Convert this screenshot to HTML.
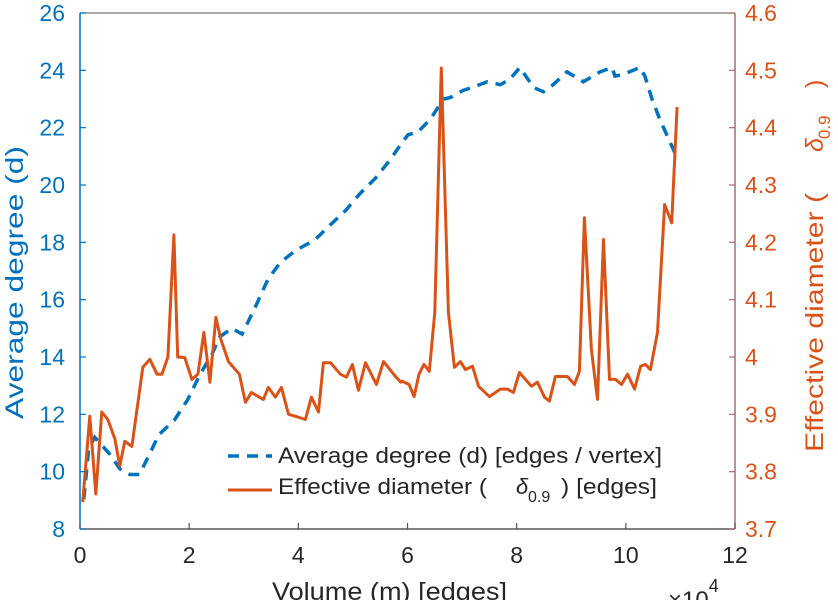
<!DOCTYPE html>
<html><head><meta charset="utf-8"><style>
body{margin:0;background:#fff;}
svg text{font-family:"Liberation Sans",sans-serif;}
</style></head><body>
<svg id="chart" width="838" height="600" xmlns="http://www.w3.org/2000/svg" style="position:absolute;left:0;top:0"></svg>
<script>
const xTicks=[0,2,4,6,8,10,12];
const leftTicks=[8,10,12,14,16,18,20,22,24,26];
const rightTicks=[3.7,3.8,3.9,4.0,4.1,4.2,4.3,4.4,4.5,4.6];
const rightTickLabels=["3.7","3.8","3.9","4","4.1","4.2","4.3","4.4","4.5","4.6"];
const degX=[0.07,0.16,0.27,0.55,0.73,0.91,1.09,1.27,1.45,1.73,1.97,2.2,2.42,2.56,2.78,2.97,3.2,3.44,3.67,3.94,4.31,4.58,4.86,5.13,5.42,5.69,5.87,6.01,6.19,6.42,6.66,6.78,7.02,7.18,7.46,7.7,7.88,8.06,8.31,8.49,8.67,8.92,9.22,9.53,9.75,9.8,9.94,10.26,10.35,10.48,10.62,10.94];
const degY=[9.04,10.8,11.2,10.6,10.1,9.9,9.9,10.6,11.3,11.8,12.5,13.4,14.1,14.7,15.0,14.8,15.7,16.7,17.3,17.7,18.1,18.6,19.1,19.7,20.25,20.9,21.4,21.75,21.85,22.3,23.0,23.05,23.3,23.4,23.6,23.5,23.7,24.1,23.4,23.25,23.5,23.95,23.6,23.95,24.1,23.8,23.85,24.1,23.8,23.0,22.3,20.95];
const diaX=[0.05,0.18,0.29,0.4,0.51,0.64,0.73,0.82,0.95,1.15,1.28,1.41,1.5,1.61,1.72,1.79,1.92,2.05,2.16,2.27,2.38,2.49,2.58,2.72,2.81,2.92,3.03,3.14,3.36,3.45,3.58,3.69,3.82,4.0,4.13,4.24,4.37,4.46,4.59,4.77,4.88,4.99,5.1,5.23,5.43,5.56,5.79,5.88,5.9,6.03,6.12,6.21,6.3,6.4,6.5,6.62,6.75,6.86,6.97,7.06,7.19,7.3,7.5,7.7,7.83,7.94,8.05,8.16,8.27,8.38,8.51,8.6,8.71,8.93,9.06,9.15,9.24,9.37,9.48,9.59,9.7,9.81,9.92,10.03,10.16,10.27,10.36,10.45,10.58,10.71,10.84,10.94];
const diaY=[3.747,3.897,3.761,3.904,3.891,3.857,3.81,3.853,3.844,3.982,3.996,3.97,3.97,4.0,4.213,4.0,3.999,3.961,3.97,4.043,3.956,4.069,4.031,3.992,3.982,3.97,3.921,3.938,3.926,3.947,3.93,3.947,3.9,3.895,3.891,3.93,3.904,3.99,3.99,3.97,3.965,3.987,3.942,3.99,3.952,3.992,3.965,3.956,3.958,3.952,3.931,3.97,3.987,3.975,4.078,4.504,4.078,3.982,3.992,3.978,3.984,3.949,3.931,3.944,3.944,3.938,3.973,3.961,3.949,3.956,3.93,3.923,3.966,3.966,3.952,3.975,4.243,4.013,3.926,4.205,3.961,3.961,3.952,3.97,3.944,3.984,3.987,3.978,4.043,4.266,4.234,4.436];

const X0=80,X1=735,Y0=13,Y1=529;
const sx=v=>X0+(v-0)/12*(X1-X0);
const syL=v=>Y1-(v-8)/18*(Y1-Y0);
const syR=v=>Y1-(v-3.7)/0.9*(Y1-Y0);
const svg=document.getElementById('chart');
const NS='http://www.w3.org/2000/svg';
function mk(tag,attrs,parent){const e=document.createElementNS(NS,tag);for(const k in attrs)e.setAttribute(k,attrs[k]);(parent||svg).appendChild(e);return e;}
const BLUE='#0072BD',ORANGE='#D95319',RAX='#a0706a',GRAY='#262626';

let d='';degX.forEach((x,i)=>{d+=(i?'L':'M')+sx(x).toFixed(1)+','+syL(degY[i]).toFixed(1);});
const p1=mk('path',{d:d,fill:'none',stroke:BLUE,'stroke-width':3.5,'stroke-dasharray':'11,8'});


let d2='';diaY.forEach((y,i)=>{d2+=(i?'L':'M')+sx(diaX[i]).toFixed(1)+','+syR(y).toFixed(1);});
const p2=mk('path',{d:d2,fill:'none',stroke:ORANGE,'stroke-width':3,'stroke-linejoin':'round'});



const ta=mk('line',{x1:X0,y1:Y0,x2:X1,y2:Y0,stroke:'#777','stroke-width':1.2});


const xa=mk('line',{x1:X0,y1:Y1,x2:X1,y2:Y1,stroke:'#555','stroke-width':1.5});


const la=mk('line',{x1:X0,y1:Y0,x2:X0,y2:Y1,stroke:BLUE,'stroke-width':1.5});


const ra=mk('line',{x1:X1,y1:Y0,x2:X1,y2:Y1,stroke:RAX,'stroke-width':1.5});



xTicks.forEach(v=>{
  mk('line',{x1:sx(v),y1:Y1,x2:sx(v),y2:Y1-6,stroke:'#555','stroke-width':1.2});
  const t=mk('text',{x:sx(v),y:Y1+34,'text-anchor':'middle','font-size':23,fill:GRAY});t.textContent=v;
  
  
});
leftTicks.forEach(v=>{
  mk('line',{x1:X0,y1:syL(v),x2:X0+6,y2:syL(v),stroke:BLUE,'stroke-width':1.2});
  const t=mk('text',{x:X0-15,y:syL(v)+8,'text-anchor':'end','font-size':23,fill:BLUE});t.textContent=v;
  
  
});
rightTicks.forEach((v,i)=>{
  mk('line',{x1:X1,y1:syR(v),x2:X1-6,y2:syR(v),stroke:RAX,'stroke-width':1.2});
  const t=mk('text',{x:X1+10,y:syR(v)+8,'text-anchor':'start','font-size':23,fill:ORANGE});t.textContent=rightTickLabels[i];
  
  
});
</script>
<svg style="position:absolute;left:0;top:0" width="838" height="600">
<g font-family="Liberation Sans,sans-serif">
<text transform="translate(23,419) rotate(-90)" x="0" y="0" font-size="25" fill="#0072BD" textLength="273" lengthAdjust="spacingAndGlyphs">Average degree (d)</text>
<g transform="translate(823,452) rotate(-90)" fill="#D95319" font-size="25">
<text x="0" y="0" textLength="259" lengthAdjust="spacingAndGlyphs">Effective diameter (</text>
<text x="300" y="0" font-style="italic">δ</text>
<text x="313" y="7" font-size="17">0.9</text>
<text x="364" y="0">)</text>
</g>
<text x="272" y="600" font-size="25" fill="#262626" textLength="235" lengthAdjust="spacingAndGlyphs">Volume (m) [edges]</text>
<text x="668" y="608" font-size="24" fill="#262626">×10<tspan font-size="18" dy="-16">4</tspan></text>
<g font-size="22" fill="#262626">
<line x1="228" y1="456" x2="272" y2="456" stroke="#0072BD" stroke-width="3.5" stroke-dasharray="11,8"/>
<text x="278" y="463" textLength="384" lengthAdjust="spacingAndGlyphs">Average degree (d) [edges / vertex]</text>
<line x1="228" y1="490" x2="272" y2="490" stroke="#D95319" stroke-width="3"/>
<text x="278" y="494" textLength="209" lengthAdjust="spacingAndGlyphs">Effective diameter (</text>
<text x="516" y="494" font-style="italic">δ</text>
<text x="528" y="502" font-size="16">0.9</text>
<text x="561" y="494" textLength="96" lengthAdjust="spacingAndGlyphs">) [edges]</text>
</g>
</g>
</svg>
</body></html>
